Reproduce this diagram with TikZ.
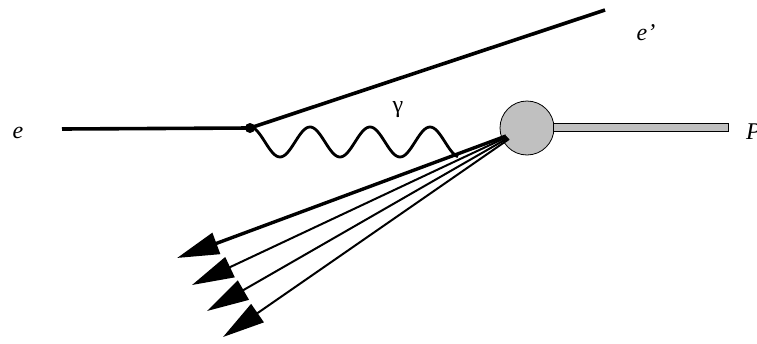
\documentclass[tikz,border=0pt]{standalone}
\usepackage{fontspec}
\setmainfont{Liberation Serif}
\usetikzlibrary{arrows.meta}
\begin{document}
\begin{tikzpicture}[x=1pt,y=-1pt,
  lep/.style={line width=3.6pt},
  jet/.style={line width=2pt,-{Triangle[length=42pt,width=22pt]}},
  lbl/.style={font=\fontsize{24}{28}\selectfont\itshape, inner sep=0pt}]
\useasboundingbox (0,0) rectangle (757,343);
% nodes
\coordinate (ein) at (62,129);
\coordinate (v) at (250,128);
\coordinate (eout) at (605,10);
\node[circle, draw, fill={rgb,255:red,192;green,192;blue,192}, minimum size=54pt, inner sep=0pt, line width=0.8pt] (blob) at (527,128) {};
\node[draw, fill={rgb,255:red,192;green,192;blue,192}, line width=0.8pt, minimum width=175pt, minimum height=8pt, inner sep=0pt, anchor=west] (bar) at (553,127) {};
\node[lbl] (le) at (18,133) {e};
\node[lbl] (lep2) at (646,33) {e’};
\node[font=\fontsize{24}{28}\selectfont, inner sep=0pt] (lg) at (398,110) {γ};
\node[lbl, anchor=west] (lP) at (746,132) {P};
% incoming and outgoing electron
\draw[lep] (ein) -- (v);
\draw[lep] (v) -- (eout);
\fill (v) circle (5pt);
% photon
\draw[line width=2.8pt, domain=0:208, samples=120, smooth] plot ({250+\x}, {142 - 15*cos(6*\x)});
% jets
\coordinate (j1) at (506,136);
\coordinate (j2) at (507,137);
\coordinate (j3) at (508,138);
\coordinate (j4) at (509,139);
\coordinate (t1) at (177,258);
\coordinate (t2) at (192,285);
\coordinate (t3) at (207,311);
\coordinate (t4) at (223,337);
\draw[jet, line width=3.4pt] (j1) -- (t1);
\draw[jet] (j2) -- (t2);
\draw[jet] (j3) -- (t3);
\draw[jet] (j4) -- (t4);
\end{tikzpicture}
\end{document}
